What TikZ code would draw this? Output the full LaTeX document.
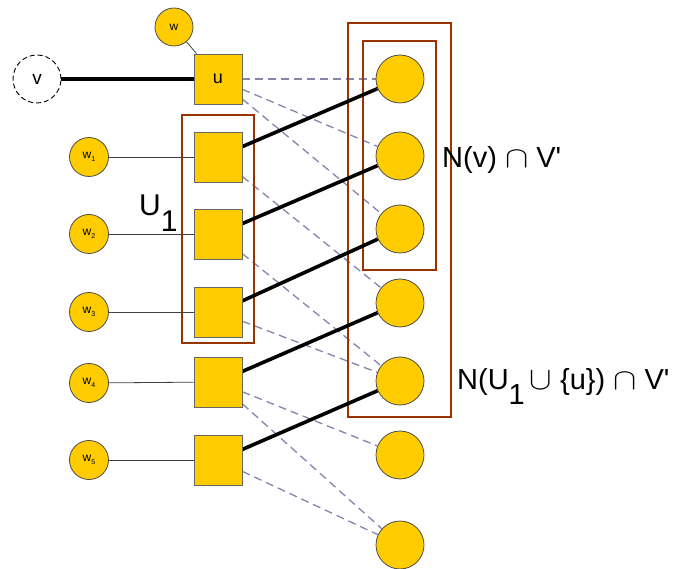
\documentclass[tikz,border=0pt]{standalone}
\usepackage{fontspec}
\setmainfont{Liberation Sans}
\newfontfamily\rawf[Ligatures=ResetAll]{Liberation Sans}
\usetikzlibrary{backgrounds}
\definecolor{yel}{HTML}{FFCC00}
\definecolor{boxc}{HTML}{993300}
\definecolor{dashc}{HTML}{8484AC}
\newcommand{\wsub}[1]{w\raisebox{-2.5pt}{\fontsize{7}{7}\selectfont #1}}
\newcommand{\capsym}{\scalebox{1.4}[1.2]{$\cap$}}
\newcommand{\cupsym}{\scalebox{1.35}[1.3]{$\cup$}}
\newcommand{\sq}{{\rawf\symbol{39}}}
\begin{document}
\begin{tikzpicture}[x=1pt,y=-1pt,
 sqbox/.style={draw=black!60, fill=yel, minimum width=48pt, minimum height=50pt, inner sep=0pt, line width=0.8pt, font=\fontsize{18}{18}\selectfont},
 rc/.style={circle, draw=black!70, fill=yel, minimum size=48pt, inner sep=0pt, line width=0.8pt},
 wc/.style={circle, draw=black!70, fill=yel, minimum size=39pt, inner sep=0pt, line width=0.8pt, font=\fontsize{12}{12}\selectfont},
 vc/.style={circle, draw=black, fill=white, dashed, dash pattern=on 5pt off 3pt, minimum size=48pt, inner sep=0pt, line width=0.9pt, font=\fontsize{19}{19}\selectfont},
 thickedge/.style={line width=3.6pt},
 dashedge/.style={draw=dashc, line width=1.3pt, dash pattern=on 8pt off 5pt},
 thinedge/.style={line width=0.8pt, draw=black!75},
 frame/.style={draw=boxc, line width=2.2pt},
 lab/.style={inner sep=0pt, font=\fontsize{29}{29}\selectfont}]
\useasboundingbox (0,0) rectangle (683,569);

% left column squares
\node[sqbox] (u) at (218,79) {u};
\node[sqbox] (s1) at (218,157) {};
\node[sqbox] (s2) at (218,234) {};
\node[sqbox] (s3) at (218,312) {};
\node[sqbox] (s4) at (218,382) {};
\node[sqbox] (s5) at (218,460) {};

% w circles
\node[wc, minimum size=38pt] (w) at (174,27) {w};
\node[wc] (w1) at (89,157) {\wsub{1}};
\node[wc] (w2) at (89,234) {\wsub{2}};
\node[wc] (w3) at (89,312) {\wsub{3}};
\node[wc] (w4) at (89,383) {\wsub{4}};
\node[wc] (w5) at (89,460) {\wsub{5}};

% v
\node[vc] (v) at (37,79) {v};

% right circles
\node[rc] (c1) at (400,79) {};
\node[rc] (c2) at (400,156) {};
\node[rc] (c3) at (400,229) {};
\node[rc] (c4) at (400,303) {};
\node[rc] (c5) at (400,381) {};
\node[rc] (c6) at (400,455) {};
\node[rc] (c7) at (400,545) {};

\begin{pgfonlayer}{background}
  % dashed edges
  \draw[dashedge] (u) -- (c1);
  \draw[dashedge] (u) -- (c2);
  \draw[dashedge] (u) -- (c3);
  \draw[dashedge] (s1) -- (c4);
  \draw[dashedge] (s2) -- (c5);
  \draw[dashedge] (s3) -- (c5);
  \draw[dashedge] (s4) -- (c6);
  \draw[dashedge] (s4) -- (c7);
  \draw[dashedge] (s5) -- (c7);
  % frames
  \draw[frame] (182,115) rectangle (254,343);
  \draw[frame] (348,23) rectangle (451,417);
  \draw[frame] (363,41) rectangle (436,270);
  % thick matching edges
  \draw[thickedge] (v) -- (u);
  \draw[thickedge] (s1) -- (c1);
  \draw[thickedge] (s2) -- (c2);
  \draw[thickedge] (s3) -- (c3);
  \draw[thickedge] (s4) -- (c4);
  \draw[thickedge] (s5) -- (c5);
  % thin edges
  \draw[thinedge] (w) -- (u);
  \draw[thinedge] (w1) -- (s1);
  \draw[thinedge] (w2) -- (s2);
  \draw[thinedge] (w3) -- (s3);
  \draw[thinedge] (w4) -- (s4);
  \draw[thinedge] (w5) -- (s5);
\end{pgfonlayer}

% labels
\node[lab, anchor=base west, font=\fontsize{30}{30}\selectfont] (lu1) at (139,216) {U\raisebox{-16pt}{1}};
\node[lab, anchor=base west] (lnv) at (442,168) {N(v) \capsym{} V\sq};
\node[lab, anchor=base west] (lnu) at (457,389) {N(U\raisebox{-15pt}{1}\,\cupsym{} \{u\}) \capsym{} V\sq};
\end{tikzpicture}
\end{document}
